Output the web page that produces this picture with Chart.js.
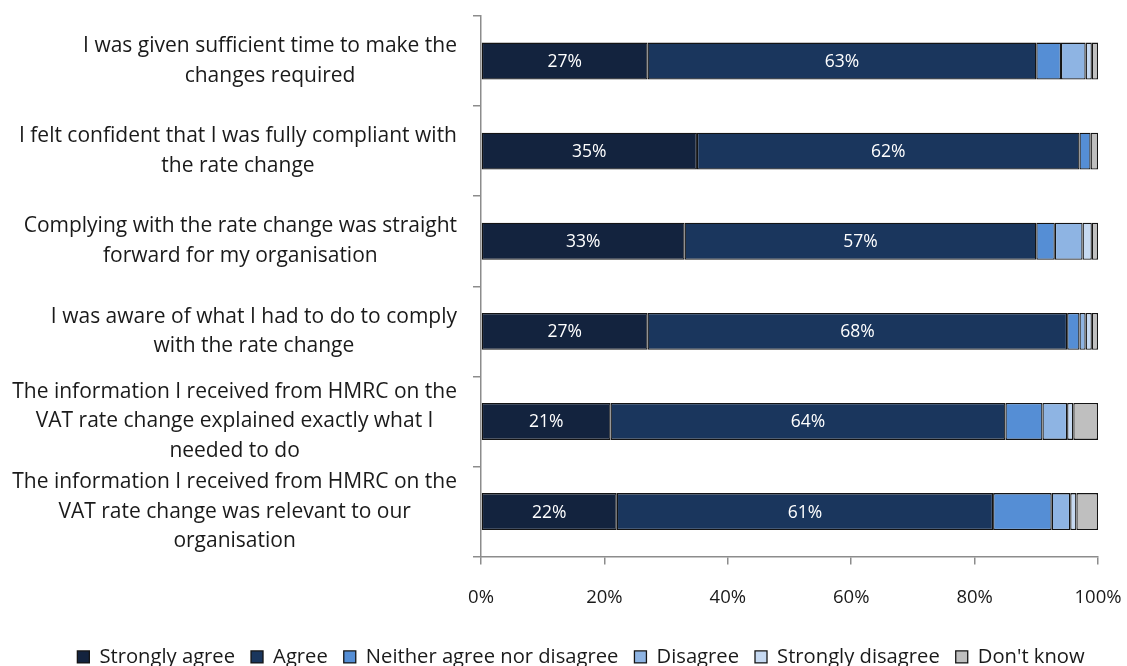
<!DOCTYPE html>
<html>
<head>
<meta charset="utf-8">
<script src="https://cdn.jsdelivr.net/npm/chart.js@4.4.0/dist/chart.umd.min.js"></script>
<style>
  html, body { margin: 0; padding: 0; background: #ffffff; }
  #wrap { width: 1127px; height: 666px; position: relative; }
</style>
</head>
<body>
<div id="wrap"><canvas id="chart"></canvas></div>
<script>
// Survey statements (each entry is the wrapped lines of one label)
const statements = [
  ["I was given sufficient time to make the", "changes required"],
  ["I felt confident that I was fully compliant with", "the rate change"],
  ["Complying with the rate change was straight", "forward for my organisation"],
  ["I was aware of what I had to do to comply", "with the rate change"],
  ["The information I received from HMRC on the", "VAT rate change explained exactly what I", "needed to do"],
  ["The information I received from HMRC on the", "VAT rate change was relevant to our", "organisation"]
];

// Share of respondents (%) per answer
const stronglyAgree    = [27, 35, 33, 27, 21, 22];
const agree            = [63, 62, 57, 68, 64, 61];
const neither          = [4, 1.8, 3, 2, 6, 9.5];
const disagree         = [4, 0, 4.5, 1, 4, 3];
const stronglyDisagree = [1, 0, 1.5, 1, 1, 1];
const dontKnow         = [1, 1.2, 1, 1, 4, 3.5];

const seriesNames = ["Strongly agree", "Agree", "Neither agree nor disagree", "Disagree", "Strongly disagree", "Don't know"];
const xTickValues = [0, 20, 40, 60, 80, 100];

const FONT = '"Open Sans"';
const TEXT = '#1a1a1a';
const AXIS = '#8c8c8c';
const OUTLINE = '#141414';
const PLOT_LEFT = 481;
const PAD_LEFT = 35;
const PLOT_RIGHT_GAP = 29;

function series(label, data, color) {
  return {
    label, data,
    backgroundColor: color,
    borderColor: OUTLINE,
    borderWidth: 1.3,
    borderSkipped: false,
    categoryPercentage: 1,
    barPercentage: 0.41
  };
}

// Value labels inside the two "agree" segments
const segmentLabels = {
  id: 'segmentLabels',
  afterDatasetsDraw(chart) {
    const ctx = chart.ctx;
    ctx.save();
    ctx.font = `17.5px ${FONT}`;
    ctx.fillStyle = '#ffffff';
    ctx.textAlign = 'center';
    ctx.textBaseline = 'middle';
    [0, 1].forEach(di => {
      const meta = chart.getDatasetMeta(di);
      meta.data.forEach((bar, i) => {
        const v = chart.data.datasets[di].data[i];
        const { x, y, base } = bar.getProps(['x', 'y', 'base'], true);
        ctx.fillText(Math.round(v) + '%', (x + base) / 2, y + 1);
      });
    });
    ctx.restore();
  }
};

// Statement labels: block right-aligned to the axis, lines centred in the block
const statementLabels = {
  id: 'statementLabels',
  afterDraw(chart) {
    const yScale = chart.scales.y;
    const ctx = chart.ctx;
    const lineGap = 29.5;
    ctx.save();
    ctx.font = `21px ${FONT}`;
    ctx.fillStyle = TEXT;
    ctx.textAlign = 'center';
    ctx.textBaseline = 'middle';
    const right = yScale.right - 24;
    statements.forEach((lines, i) => {
      const widest = Math.max(...lines.map(l => ctx.measureText(l).width));
      const cx = right - widest / 2;
      const cy = yScale.getPixelForValue(i);
      lines.forEach((l, k) => {
        ctx.fillText(l, cx, cy + (k - (lines.length - 1) / 2) * lineGap);
      });
    });
    ctx.restore();
  }
};

new Chart(document.getElementById('chart'), {
  type: 'bar',
  data: {
    labels: statements,
    datasets: [
      series(seriesNames[0], stronglyAgree, '#13233e'),
      series(seriesNames[1], agree, '#1a365d'),
      series(seriesNames[2], neither, '#558ed5'),
      series(seriesNames[3], disagree, '#8eb4e3'),
      series(seriesNames[4], stronglyDisagree, '#c6d9f1'),
      series(seriesNames[5], dontKnow, '#bfbfbf')
    ]
  },
  options: {
    indexAxis: 'y',
    responsive: true,
    maintainAspectRatio: false,
    animation: false,
    layout: { padding: { top: 16, right: 0, bottom: -11, left: PAD_LEFT } },
    scales: {
      x: {
        stacked: true,
        min: 0,
        max: 100,
        afterBuildTicks(scale) { scale.ticks = xTickValues.map(v => ({ value: v })); },
        afterFit(scale) { scale.paddingLeft = 0; scale.paddingRight = PLOT_RIGHT_GAP; },
        ticks: {
          callback: v => v + '%',
          font: { family: 'Open Sans', size: 18.5 },
          color: TEXT,
          padding: 22,
          maxRotation: 0
        },
        grid: { drawOnChartArea: false, drawTicks: true, tickLength: 8, color: AXIS, lineWidth: 1.5 },
        border: { color: AXIS, width: 1.5 }
      },
      y: {
        stacked: true,
        offset: true,
        ticks: { display: false },
        afterFit(scale) { scale.width = PLOT_LEFT - PAD_LEFT; },
        grid: { drawOnChartArea: false, drawTicks: true, tickLength: 8, color: AXIS, lineWidth: 1.5, offset: true },
        border: { color: AXIS, width: 1.5 }
      }
    },
    plugins: {
      legend: {
        position: 'bottom',
        labels: {
          boxWidth: 12,
          boxHeight: 12,
          padding: 16,
          color: TEXT,
          font: { family: 'Open Sans', size: 20.2 }
        }
      },
      tooltip: { enabled: false }
    }
  },
  plugins: [segmentLabels, statementLabels]
});
</script>
</body>
</html>
